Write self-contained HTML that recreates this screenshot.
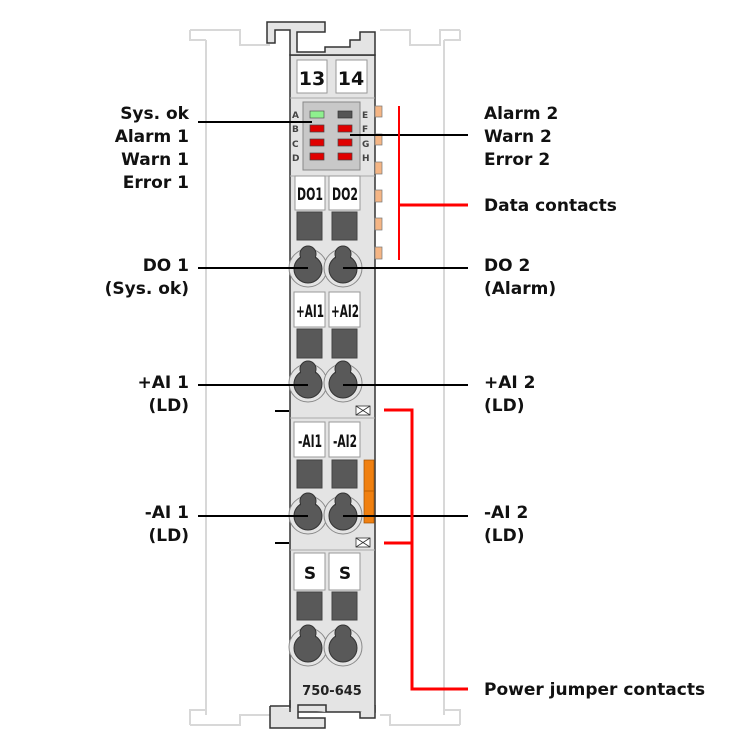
<!DOCTYPE html>
<html><head><style>
html,body{margin:0;padding:0;background:#fff;}
svg{display:block;}
text{font-family:"DejaVu Sans","Liberation Sans",sans-serif;font-weight:bold;}
</style></head><body>
<svg width="750" height="750" viewBox="0 0 750 750" xmlns="http://www.w3.org/2000/svg">
<defs>
<g id="clamp">
<circle cx="0" cy="-1" r="19" fill="#e4e4e4" stroke="#8a8a8a" stroke-width="1"/>
<circle cx="0" cy="0" r="14" fill="#595959" stroke="#333" stroke-width="1"/>
<circle cx="0" cy="-15" r="8" fill="#595959" stroke="#333" stroke-width="1"/>
<rect x="-7" y="-15" width="14" height="12" fill="#595959"/>
</g>
</defs>
<g fill="none" stroke="#d8d8d8" stroke-width="2">
<path d="M206 40 V715 M190 30 H240 V45 H270 M190 30 V40 H206"/>
<path d="M444 40 V715 M460 30 V40 H444 M380 30 H410 V45 H440 V30 H460"/>
<path d="M190 725 V710 H206 M190 725 H240 V715 H270"/>
<path d="M460 725 V710 H444 M460 725 H390 V715 H380"/>
</g>
<rect x="290" y="55" width="85" height="657" fill="#e4e4e4" stroke="#333" stroke-width="1.5"/>
<path d="M267 22 H325 V32 H297 V52 H325 V47 H350 V40 H360 V32 H375 V55 H290 V30 H275 V43 H267 Z" fill="#e4e4e4" stroke="#333" stroke-width="1.5"/>
<path d="M290 700 V712 M270 706 H290 M270 706 V728 H325 V718 H298 V705 H326 V712" fill="#e4e4e4" stroke="#333" stroke-width="1.5"/>
<path d="M360 712 V718 H375 V705" fill="#e4e4e4" stroke="#333" stroke-width="1.5"/>
<g stroke="#aaa" stroke-width="1">
<line x1="290" y1="98" x2="375" y2="98"/>
<line x1="290" y1="176" x2="375" y2="176"/>
<line x1="290" y1="418" x2="375" y2="418"/>
<line x1="290" y1="550" x2="375" y2="550"/>
</g>
<rect x="297" y="60" width="30" height="33" fill="#fff" stroke="#999"/>
<rect x="336" y="60" width="31" height="33" fill="#fff" stroke="#999"/>
<text x="312" y="85" font-size="19" text-anchor="middle" fill="#111">13</text>
<text x="351" y="85" font-size="19" text-anchor="middle" fill="#111">14</text>
<rect x="303" y="102" width="57" height="68" fill="#c8c8c8" stroke="#888"/>
<rect x="310" y="111" width="14" height="7" fill="#8ef08e" stroke="#555" stroke-width="0.7"/>
<rect x="338" y="111" width="14" height="7" fill="#555" stroke="#333" stroke-width="0.7"/>
<g fill="#e00000" stroke="#444" stroke-width="0.7">
<rect x="310" y="125" width="14" height="7"/><rect x="338" y="125" width="14" height="7"/>
<rect x="310" y="139" width="14" height="7"/><rect x="338" y="139" width="14" height="7"/>
<rect x="310" y="153" width="14" height="7"/><rect x="338" y="153" width="14" height="7"/>
</g>
<g font-size="9" fill="#444" style="font-weight:normal;font-family:'Liberation Sans',sans-serif">
<text x="292" y="118">A</text><text x="292" y="132">B</text><text x="292" y="147">C</text><text x="292" y="161">D</text>
<text x="362" y="118">E</text><text x="362" y="132">F</text><text x="362" y="147">G</text><text x="362" y="161">H</text>
</g>
<g fill="#f5b584" stroke="#777" stroke-width="0.7">
<rect x="375" y="106" width="7" height="11"/><rect x="375" y="134" width="7" height="11"/>
<rect x="375" y="162" width="7" height="12"/><rect x="375" y="190" width="7" height="12"/>
<rect x="375" y="218" width="7" height="12"/><rect x="375" y="247" width="7" height="12"/>
</g>
<g fill="#fff" stroke="#999">
<rect x="295" y="176" width="30" height="34"/><rect x="329" y="176" width="31" height="34"/>
<rect x="294" y="292" width="31" height="35"/><rect x="329" y="292" width="31" height="35"/>
<rect x="294" y="422" width="31" height="35"/><rect x="329" y="422" width="31" height="35"/>
<rect x="294" y="553" width="31" height="37"/><rect x="329" y="553" width="31" height="37"/>
</g>
<g font-size="17" text-anchor="middle" fill="#111" style="font-weight:normal;font-family:'Liberation Sans Narrow','Liberation Sans',sans-serif">
<text x="310" y="200" textLength="26" lengthAdjust="spacingAndGlyphs">DO1</text>
<text x="345" y="200" textLength="26" lengthAdjust="spacingAndGlyphs">DO2</text>
<text x="310" y="317" textLength="28" lengthAdjust="spacingAndGlyphs">+AI1</text>
<text x="345" y="317" textLength="28" lengthAdjust="spacingAndGlyphs">+AI2</text>
<text x="310" y="447" textLength="24" lengthAdjust="spacingAndGlyphs">-AI1</text>
<text x="345" y="447" textLength="24" lengthAdjust="spacingAndGlyphs">-AI2</text>
</g>
<text x="310" y="579" font-size="17" text-anchor="middle" fill="#111">S</text>
<text x="345" y="579" font-size="17" text-anchor="middle" fill="#111">S</text>
<g fill="#595959" stroke="#444">
<rect x="297" y="212" width="25" height="28"/><rect x="332" y="212" width="25" height="28"/>
<rect x="297" y="329" width="25" height="29"/><rect x="332" y="329" width="25" height="29"/>
<rect x="297" y="460" width="25" height="28"/><rect x="332" y="460" width="25" height="28"/>
<rect x="297" y="592" width="25" height="28"/><rect x="332" y="592" width="25" height="28"/>
</g>
<use href="#clamp" x="308" y="269"/><use href="#clamp" x="343" y="269"/>
<use href="#clamp" x="308" y="384"/><use href="#clamp" x="343" y="384"/>
<use href="#clamp" x="308" y="516"/><use href="#clamp" x="343" y="516"/>
<use href="#clamp" x="308" y="648"/><use href="#clamp" x="343" y="648"/>
<rect x="364" y="460" width="10" height="63" fill="#f08010" stroke="#a05000" stroke-width="0.7"/>
<line x1="364" y1="491" x2="374" y2="491" stroke="#c06000"/>
<g fill="#fff" stroke="#333" stroke-width="0.8">
<rect x="356" y="406" width="14" height="9"/><path d="M356 406 L370 415 M370 406 L356 415"/>
<rect x="356" y="538" width="14" height="9"/><path d="M356 538 L370 547 M370 538 L356 547"/>
</g>
<text x="332" y="695" font-size="13" text-anchor="middle" fill="#222">750-645</text>
<g stroke="#000" stroke-width="2">
<line x1="198" y1="122" x2="312" y2="122"/>
<line x1="350" y1="135" x2="468" y2="135"/>
<line x1="198" y1="268" x2="308" y2="268"/>
<line x1="343" y1="268" x2="468" y2="268"/>
<line x1="198" y1="385" x2="308" y2="385"/>
<line x1="343" y1="385" x2="468" y2="385"/>
<line x1="198" y1="516" x2="308" y2="516"/>
<line x1="343" y1="516" x2="468" y2="516"/>
<line x1="275" y1="411" x2="289" y2="411"/>
<line x1="275" y1="543" x2="289" y2="543"/>
</g>
<g stroke="#f00" fill="none">
<line x1="399" y1="106" x2="399" y2="260" stroke-width="2"/>
<line x1="399" y1="205" x2="468" y2="205" stroke-width="3"/>
<path d="M384 410 H412 V689 H468" stroke-width="3"/>
<line x1="384" y1="543" x2="412" y2="543" stroke-width="3"/>
</g>
<g font-size="17" fill="#111" text-anchor="end">
<text x="189" y="119">Sys. ok</text>
<text x="189" y="142">Alarm 1</text>
<text x="189" y="165">Warn 1</text>
<text x="189" y="188">Error 1</text>
<text x="189" y="271">DO 1</text>
<text x="189" y="294">(Sys. ok)</text>
<text x="189" y="388">+AI 1</text>
<text x="189" y="411">(LD)</text>
<text x="189" y="518">-AI 1</text>
<text x="189" y="541">(LD)</text>
</g>
<g font-size="17" fill="#111">
<text x="484" y="119">Alarm 2</text>
<text x="484" y="142">Warn 2</text>
<text x="484" y="165">Error 2</text>
<text x="484" y="211">Data contacts</text>
<text x="484" y="271">DO 2</text>
<text x="484" y="294">(Alarm)</text>
<text x="484" y="388">+AI 2</text>
<text x="484" y="411">(LD)</text>
<text x="484" y="518">-AI 2</text>
<text x="484" y="541">(LD)</text>
<text x="484" y="695">Power jumper contacts</text>
</g>
</svg>
</body></html>
